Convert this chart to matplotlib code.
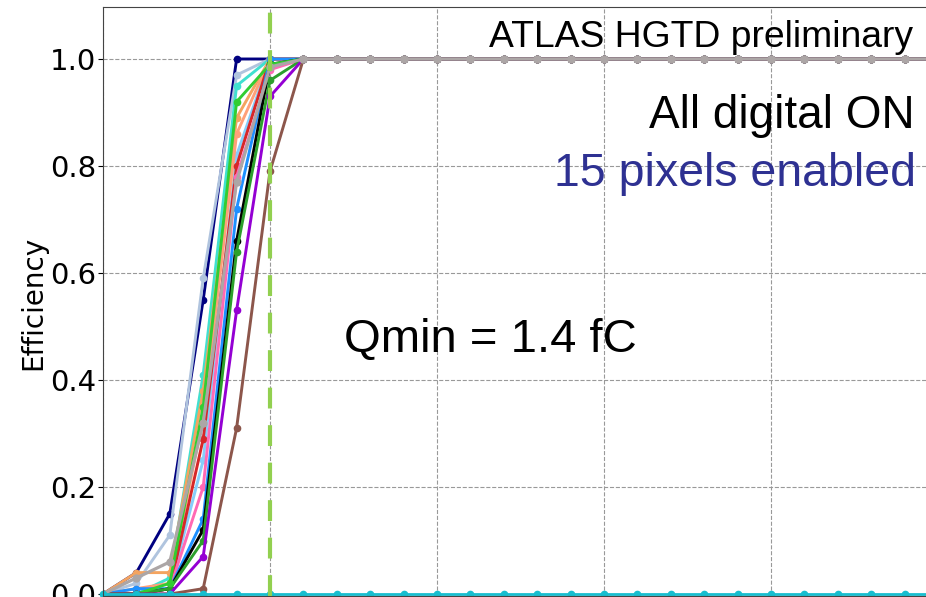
import matplotlib.pyplot as plt

# injected charge (fC), one point every 0.1 fC
charge = [0.9, 1.0, 1.1, 1.2, 1.3, 1.4, 1.5, 1.6, 1.7, 1.8, 1.9, 2.0, 2.1,
          2.2, 2.3, 2.4, 2.5, 2.6, 2.7, 2.8, 2.9, 3.0, 3.1, 3.2, 3.3, 3.4]

# every pixel is fully efficient above 1.5 fC
plateau = [1.0, 1.0, 1.0, 1.0, 1.0, 1.0, 1.0, 1.0, 1.0, 1.0,
           1.0, 1.0, 1.0, 1.0, 1.0, 1.0, 1.0, 1.0, 1.0]

# turn-on part (0.9 ... 1.5 fC) of each pixel
pix_navy = [0.0, 0.04, 0.15, 0.55, 1.0, 1.0, 1.0]
pix_lsteel = [0.0, 0.02, 0.11, 0.59, 0.97, 1.0, 1.0]
pix_sandy = [0.0, 0.04, 0.04, 0.38, 0.89, 1.0, 1.0]
pix_salmon = [0.0, 0.01, 0.02, 0.33, 0.86, 1.0, 1.0]
pix_red = [0.0, 0.0, 0.01, 0.29, 0.80, 1.0, 1.0]
pix_turq = [0.0, 0.0, 0.03, 0.41, 0.95, 1.0, 1.0]
pix_lime = [0.0, 0.0, 0.02, 0.35, 0.92, 0.99, 1.0]
pix_green = [0.0, 0.0, 0.01, 0.10, 0.64, 0.96, 1.0]
pix_black = [0.0, 0.0, 0.01, 0.12, 0.66, 0.99, 1.0]
pix_dblue = [0.0, 0.01, 0.01, 0.14, 0.72, 1.0, 1.0]
pix_pink = [0.0, 0.0, 0.01, 0.20, 0.78, 0.98, 1.0]
pix_skyblue = [0.0, 0.0, 0.01, 0.25, 0.82, 1.0, 1.0]
pix_violet = [0.0, 0.0, 0.0, 0.07, 0.53, 0.93, 1.0]
pix_brown = [0.0, 0.0, 0.0, 0.01, 0.31, 0.79, 1.0]
pix_grey = [0.0, 0.03, 0.06, 0.32, 0.77, 0.985, 1.0]

# one pixel never fires
pix_dead = [0.0, 0.0, 0.0, 0.0, 0.0, 0.0, 0.0, 0.0, 0.0, 0.0, 0.0, 0.0, 0.0,
            0.0, 0.0, 0.0, 0.0, 0.0, 0.0, 0.0, 0.0, 0.0, 0.0, 0.0, 0.0, 0.0]

qmin = 1.4

curves = [
    (pix_navy, "#000080"),
    (pix_lsteel, "#b0c4de"),
    (pix_turq, "#40e0d0"),
    (pix_skyblue, "#87cefa"),
    (pix_sandy, "#f4a460"),
    (pix_salmon, "#ffa07a"),
    (pix_red, "#d62728"),
    (pix_pink, "#ff69b4"),
    (pix_dblue, "#1e90ff"),
    (pix_black, "black"),
    (pix_green, "#2ca02c"),
    (pix_lime, "#32cd32"),
    (pix_violet, "#9400d3"),
    (pix_brown, "#8c564b"),
]

W, H = 926, 597
fig = plt.figure(figsize=(W / 100, H / 100), dpi=100)

# axes runs past the right edge (cropped view)
x0_px, x1_px = 103, 954.7
y_top_px, y_bot_px = 7.1, 595.5
ax = fig.add_axes([x0_px / W, (H - y_bot_px) / H,
                   (x1_px - x0_px) / W, (y_bot_px - y_top_px) / H])

for vals, col in curves:
    ax.plot(charge, vals + plateau, "-o", color=col, lw=2.1, ms=4.5)
ax.plot(charge, pix_grey + plateau, "-o", color="#aca6a6", lw=2.3, ms=5)
ax.plot(charge, pix_dead, "-o", color="#17becf", lw=2, ms=4.5, clip_on=False)

ax.axvline(qmin, color="#92d050", lw=3, dashes=(5, 4), zorder=5)

ax.set_xlim(0.9, 3.45)
ax.set_ylim(-0.0028, 1.097)
ax.set_xticks([0.9, 1.4, 1.9, 2.4, 2.9, 3.4])
ax.set_yticks([0.0, 0.2, 0.4, 0.6, 0.8, 1.0])
ax.grid(True, ls="--", color="#999999", lw=0.8)
ax.tick_params(axis="y", labelsize=21, pad=1.5)
ax.tick_params(axis="x", labelbottom=False)
for s in ax.spines.values():
    s.set_color("#444444")

ax.set_ylabel("Efficiency", fontsize=20)
ax.yaxis.set_label_coords((47 - x0_px) / (x1_px - x0_px),
                          (y_bot_px - 303) / (y_bot_px - y_top_px))

txt = dict(family=["Liberation Sans", "DejaVu Sans"], va="baseline")
fig.text(913 / W, 1 - 47 / H, "ATLAS HGTD preliminary", fontsize=26.8, ha="right", **txt)
fig.text(915 / W, 1 - 128 / H, "All digital ON", fontsize=33, ha="right", **txt)
fig.text(916 / W, 1 - 186 / H, "15 pixels enabled", fontsize=33.5, ha="right",
         color="#2e3192", **txt)
fig.text(344 / W, 1 - 352 / H, "Qmin = 1.4 fC", fontsize=34, ha="left", **txt)

fig.savefig("out.png", dpi=100)
